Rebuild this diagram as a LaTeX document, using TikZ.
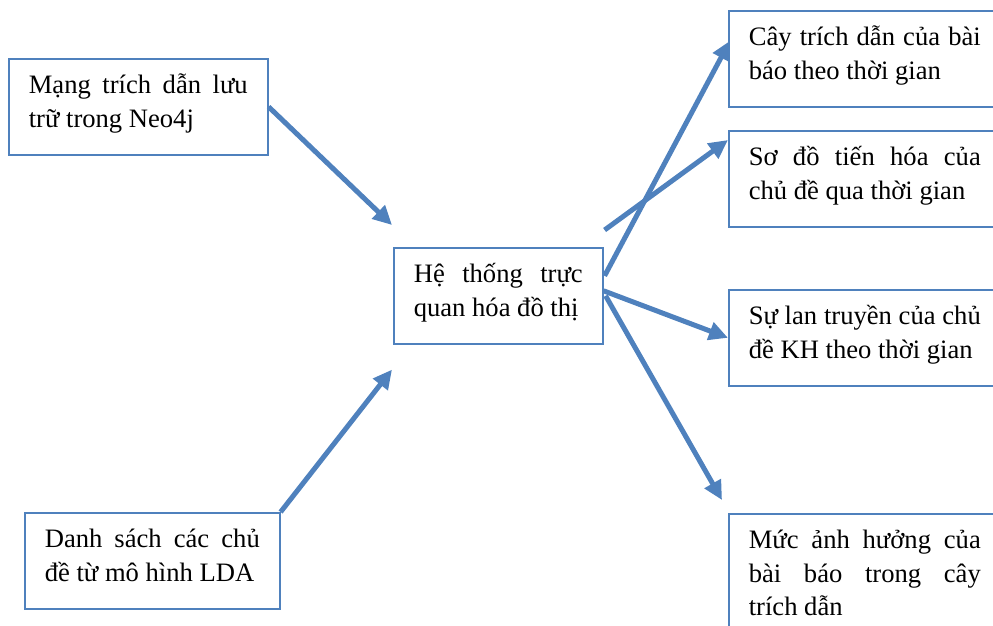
\documentclass[tikz,border=0pt]{standalone}
\usepackage{fontspec}
\setmainfont{Liberation Serif}
\usetikzlibrary{arrows.meta,calc}
\definecolor{wordblue}{RGB}{79,129,189}

\begin{document}
\begin{tikzpicture}
  [x=1pt, y=1pt,
   every node/.style={font=\fontsize{26.6}{33.4}\selectfont},
   box/.style={draw=wordblue, line width=1.6pt, anchor=north west, align=justify,
               inner xsep=20pt, inner ysep=10pt, text height=25pt, text depth=51pt},
   link/.style={draw=wordblue, line width=5pt, -{Triangle[length=19pt,width=18pt]}}]
  \clip (0,0) rectangle (993,-625);
  \node [box, text width=219pt] (neo) at (8,-58) {Mạng trích dẫn lưu trữ trong Neo4j};
  \node [box, text width=215pt] (lda) at (24,-512) {Danh sách các chủ đề từ mô hình LDA};
  \node [box, text width=169pt] (hub) at (393,-247) {Hệ thống trực quan hóa đồ thị};
  \node [box, text width=232pt] (tree) at (728,-10) {Cây trích dẫn của bài báo theo thời gian};
  \node [box, text width=232pt] (evo) at (728,-130) {Sơ đồ tiến hóa của\linebreak chủ đề qua thời gian};
  \node [box, text width=232pt] (spread) at (728,-289) {Sự lan truyền của chủ đề KH theo thời gian};
  \node [box, text width=232pt, text depth=90pt] (impact) at (728,-513)
     {Mức ảnh hưởng của bài báo trong cây\linebreak trích dẫn};
  \draw [link] (neo.east) -- ($(hub.north west)+(-1,22)$);
  \draw [link] (lda.north east) -- ($(hub.south west)+(-1,-25)$);
  \draw [link] ($(hub.east)+(1,20)$) -- ($(tree.west)+(2,18)$);
  \draw [link] ($(hub.north east)+(1,17)$) -- ($(evo.north west)+(0,-10)$);
  \draw [link] ($(hub.east)+(0,5)$) -- (spread.west);
  \draw [link] ($(hub.east)+(2,0)$) -- ($(impact.north west)+(-6,13)$);
\end{tikzpicture}
\end{document}
